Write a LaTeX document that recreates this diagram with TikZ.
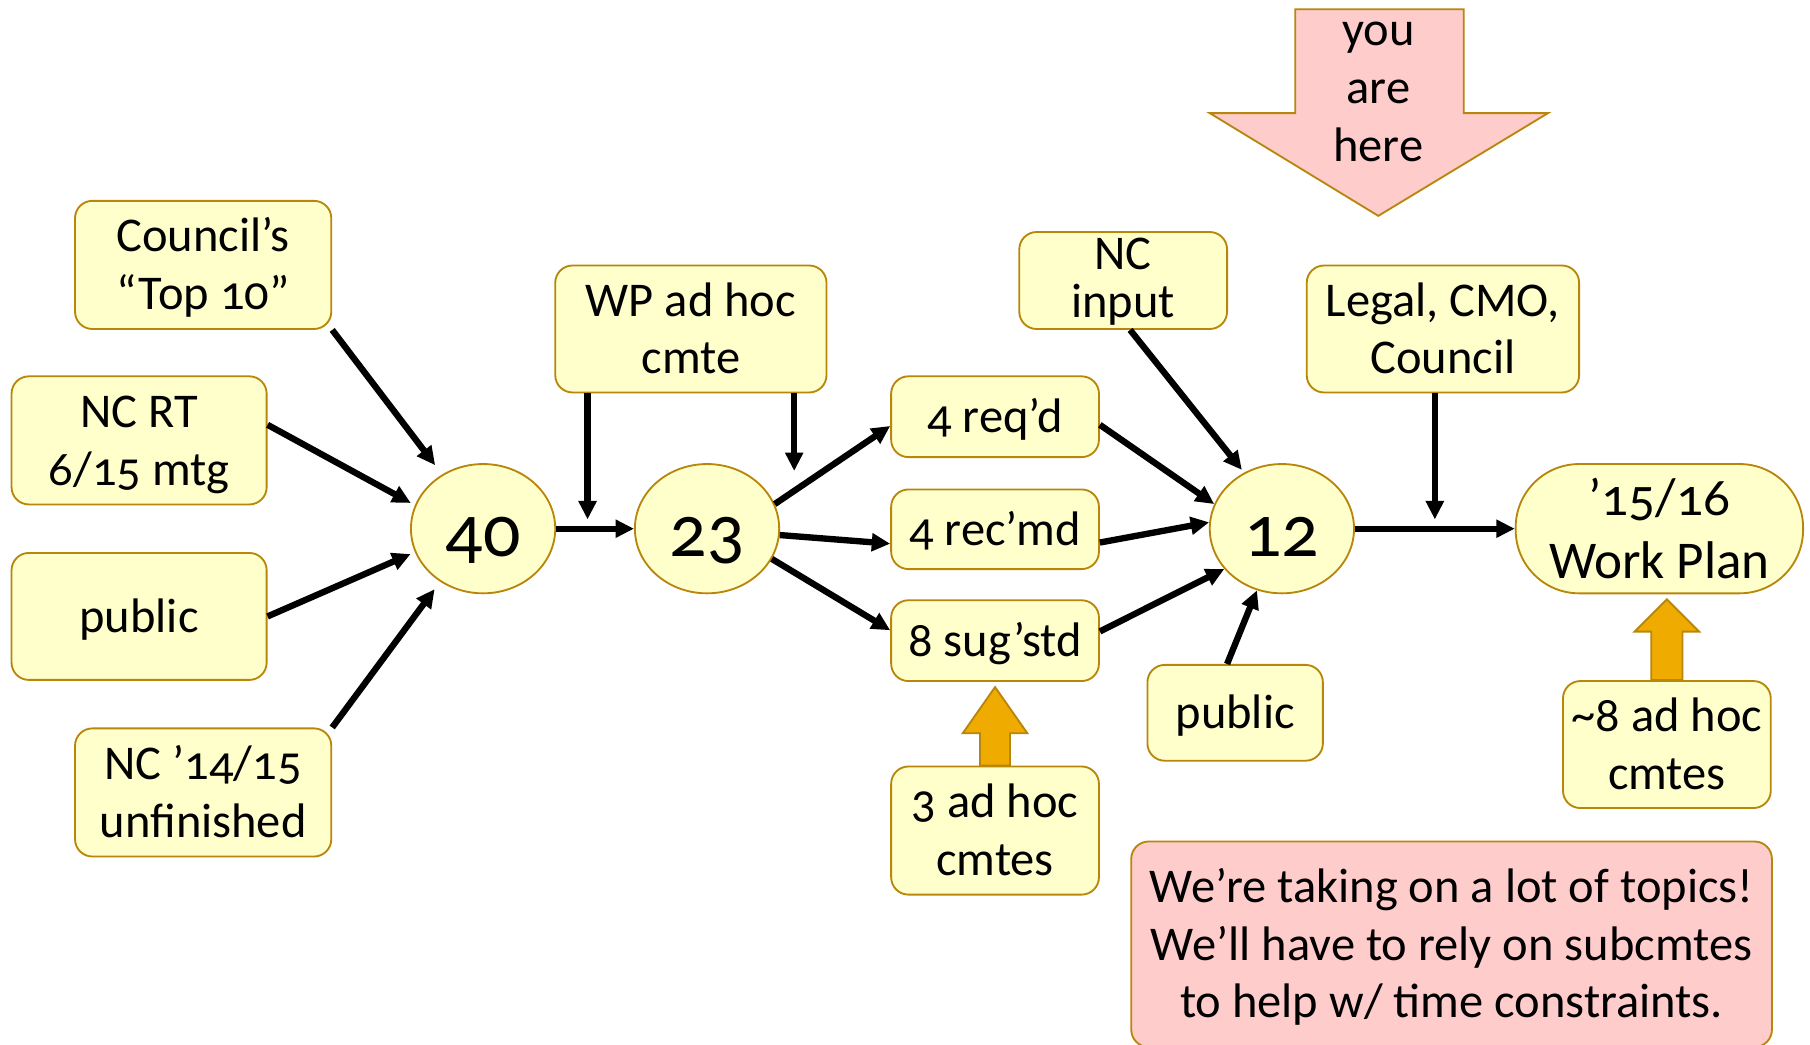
\documentclass[tikz,border=0pt]{standalone}
\usepackage{fontspec}
\setmainfont{Carlito}[Numbers=OldStyle]
\usetikzlibrary{arrows.meta,shapes.geometric}
\definecolor{boxfill}{HTML}{FFFFCC}
\definecolor{boxline}{HTML}{B8860B}
\definecolor{pinkfill}{HTML}{FFCCCC}
\definecolor{orangefill}{HTML}{F0AB00}
\tikzset{
  ybox/.style={draw=boxline, fill=boxfill, line width=0.8pt, rounded corners=7.5pt,
    align=center, inner sep=0pt, font=\fontsize{21}{25}\selectfont,
    text height=18.5pt, text depth=4.7pt},
  twolines/.style={text height=43.5pt},
  threelines/.style={text height=68.5pt},
  yell/.style={draw=boxline, fill=boxfill, line width=0.8pt, ellipse, inner sep=0pt,
    minimum width=62.5pt, minimum height=56pt, font=\fontsize{32}{36}\selectfont,
    text height=24pt, text depth=0pt},
  conn/.style={line width=2.75pt, -{Triangle[length=8pt,width=7.5pt]}},
  bigarrow/.style={draw=boxline, line width=0.8pt, line join=miter},
}
\begin{document}
\begin{tikzpicture}[x=0.5pt,y=-0.5pt]
\useasboundingbox (0,0) rectangle (1568,905);

% boxes
\node[ybox, twolines, minimum width=111pt, minimum height=55.5pt] (council) at (176,229.5) {Council’s\\“Top 10”};
\node[ybox, twolines, minimum width=110.5pt, minimum height=55.5pt] (ncrt) at (120.5,381.5) {NC RT\\6/15 mtg};
\node[ybox, minimum width=110.5pt, minimum height=55pt] (publ) at (120.5,534) {public};
\node[ybox, twolines, minimum width=111pt, minimum height=55.5pt] (nc14) at (176,686.5) {NC ’14/15\\unfinished};
\node[yell] (n40) at (418.5,458) {40};
\node[yell] (n23) at (612.5,458) {23};
\node[ybox, twolines, minimum width=117.5pt, minimum height=55pt] (wp) at (598.5,285) {WP ad hoc\\cmte};
\node[ybox, minimum width=90pt, minimum height=35pt] (req) at (862,361) {4 req’d};
\node[ybox, minimum width=90pt, minimum height=34.5pt] (rec) at (862,458.5) {4 rec’md};
\node[ybox, minimum width=90pt, minimum height=35pt] (sug) at (862,555) {8 sug’std};
\node[ybox, twolines, minimum width=90pt, minimum height=55.5pt] (adhoc3) at (862,719.5) {3 ad hoc\\cmtes};
\node[ybox, minimum width=90pt, minimum height=42pt, font=\fontsize{21}{21}\selectfont, text height=37pt, text depth=4.7pt] (ncin) at (973,243) {NC\\input};
\node[yell] (n12) at (1110.5,458) {12};
\node[ybox, minimum width=76pt, minimum height=41.5pt] (pubr) at (1070,617.5) {public};
\node[ybox, twolines, minimum width=118pt, minimum height=55pt] (legal) at (1250,285) {Legal, CMO,\\Council};
\node[draw=boxline, fill=boxfill, line width=0.8pt, rounded corners=27.5pt, align=center, inner sep=0pt,
  minimum width=124.5pt, minimum height=56pt, font=\fontsize{23}{27.5}\selectfont] (wplan) at (1437.5,458) {’15/16\\Work Plan};
\node[ybox, twolines, minimum width=90pt, minimum height=55pt] (adhoc8) at (1444,645) {\textasciitilde 8 ad hoc\\cmtes};
\node[ybox, threelines, fill=pinkfill, minimum width=277.5pt, minimum height=89pt] (note) at (1257.5,818) {We’re taking on a lot of topics!\\We’ll have to rely on subcmtes\\to help w/ time constraints.};

% you are here arrow
\draw[bigarrow, fill=pinkfill] (1122,8) -- (1268,8) -- (1268,98) -- (1341,98) -- (1194,187) -- (1048,98) -- (1122,98) -- cycle;
\node[align=center, inner sep=0pt, font=\fontsize{21}{25}\selectfont,
  text height=68.5pt, text depth=4.7pt] (here) at (1194,76) {you\\are\\here};

% orange block arrows
\draw[bigarrow, fill=orangefill] (adhoc3.north) ++(-13,0) -- ++(0,-28) -- ++(-15,0) -- ++(28,-40) -- ++(28,40) -- ++(-15,0) -- ++(0,28) -- cycle;
\draw[bigarrow, fill=orangefill] (adhoc8.north) ++(-13.5,0) -- ++(0,-42) -- ++(-14.5,0) -- ++(28,-28) -- ++(28,28) -- ++(-14.5,0) -- ++(0,42) -- cycle;

% connectors
\draw[conn, shorten >=5pt] (council.south east) -- (n40.127);
\draw[conn, shorten >=2pt] ([yshift=6.75pt]ncrt.east) -- (n40.161);
\draw[conn, shorten >=2pt] (publ.east) -- (n40.-161);
\draw[conn, shorten >=4pt] (nc14.north east) -- (n40.-129);
\draw[conn] (n40.east) -- (n23.west);
\coordinate (wpl) at (509,450);
\draw[conn] (wp.south -| wpl) -- (wpl);
\coordinate (wpr) at (688,408);
\draw[conn] (wp.south -| wpr) -- (wpr);
\draw[conn] (n23.20) -- ([yshift=-4pt]req.west);
\draw[conn] (n23.-5) -- ([yshift=-6.25pt]rec.west);
\draw[conn] (n23.-25) -- ([yshift=4.5pt]sug.west);
\draw[conn] ([yshift=-3.5pt]req.east) -- (n12.160);
\draw[conn] ([yshift=-5.75pt]rec.east) -- (n12.175);
\draw[conn] ([yshift=4pt]sug.east) -- (n12.-145);
\draw[conn, shorten >=1.5pt] ([xshift=3pt]ncin.south) -- (n12.124);
\draw[conn] ([xshift=-3.5pt]pubr.north) -- (n12.-112);
\draw[conn] (n12.east) -- (wplan.west);
\coordinate (legc) at (1243,450);
\draw[conn] (legal.south -| legc) -- (legc);
\end{tikzpicture}
\end{document}
